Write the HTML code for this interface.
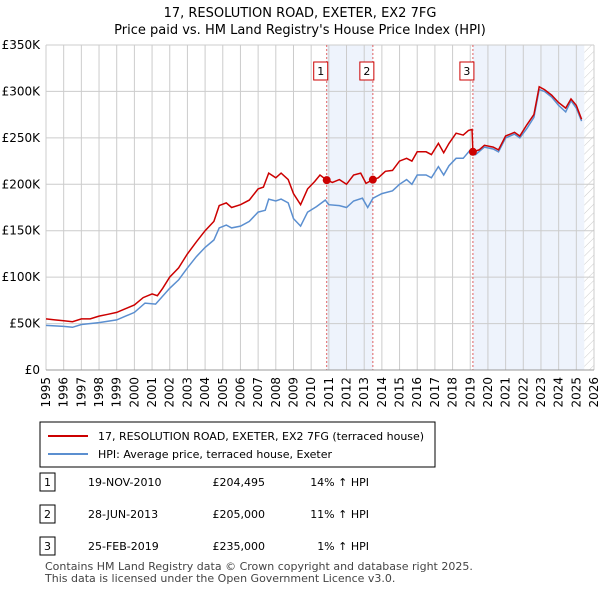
<!DOCTYPE html>
<html><head><meta charset="utf-8"><style>
body{margin:0;background:#fff;font-family:"Liberation Sans","DejaVu Sans",sans-serif;}
svg text{font-family:"DejaVu Sans","Liberation Sans",sans-serif;}
</style></head><body>
<svg id="c" width="600" height="590" xmlns="http://www.w3.org/2000/svg">
<defs><pattern id="hatch" width="6" height="6" patternUnits="userSpaceOnUse" patternTransform="rotate(45)"><line x1="0" y1="0" x2="0" y2="6" stroke="#ccc" stroke-width="1"/></pattern></defs>
<text x="300" y="17" text-anchor="middle" font-size="13">17, RESOLUTION ROAD, EXETER, EX2 7FG</text>
<text x="300" y="34" text-anchor="middle" font-size="13">Price paid vs. HM Land Registry's House Price Index (HPI)</text>
<g id="plot"></g>
<rect x="40" y="422" width="395" height="45" fill="#fff" stroke="#000"/>
<line x1="48" y1="436" x2="88" y2="436" stroke="#cc0000" stroke-width="2"/>
<text x="98" y="440" font-size="11">17, RESOLUTION ROAD, EXETER, EX2 7FG (terraced house)</text>
<line x1="48" y1="454" x2="88" y2="454" stroke="#5b8fd0" stroke-width="2"/>
<text x="98" y="458" font-size="11">HPI: Average price, terraced house, Exeter</text>
<g id="tbl" font-size="11"></g>
<text x="45" y="570" font-size="11" fill="#444">Contains HM Land Registry data © Crown copyright and database right 2025.</text>
<text x="45" y="582" font-size="11" fill="#444">This data is licensed under the Open Government Licence v3.0.</text>
</svg>
<script>
const redX=[1995,1995.5,1996,1996.5,1997,1997.5,1998,1998.5,1999,1999.5,2000,2000.5,2001,2001.3,2001.6,2002,2002.5,2003,2003.5,2004,2004.5,2004.8,2005.2,2005.5,2006,2006.5,2007,2007.3,2007.6,2008,2008.3,2008.7,2009,2009.4,2009.8,2010.2,2010.5,2010.88,2011.2,2011.6,2012,2012.4,2012.8,2013.1,2013.49,2013.8,2014.2,2014.6,2015,2015.4,2015.7,2016,2016.5,2016.8,2017.2,2017.5,2017.8,2018.2,2018.6,2018.9,2019.1,2019.15,2019.5,2019.8,2020.3,2020.6,2021,2021.5,2021.8,2022.2,2022.6,2022.9,2023.2,2023.6,2024,2024.4,2024.7,2025,2025.3];
const redY=[55,54,53,52,55,55,58,60,62,66,70,78,82,80,88,100,110,125,138,150,160,177,180,175,178,183,195,197,212,207,212,205,190,178,195,203,210,204.5,202,205,200,210,212,201,205,207,214,215,225,228,225,235,235,232,244,234,244,255,253,258,259,235,237,242,240,237,252,256,252,264,275,305,302,296,288,282,292,285,270];
const hpiX=[1995,1996,1996.5,1997,1998,1999,2000,2000.6,2001.2,2002,2002.5,2003,2003.5,2004,2004.5,2004.8,2005.2,2005.5,2006,2006.5,2007,2007.4,2007.6,2008,2008.3,2008.7,2009,2009.4,2009.8,2010.3,2010.8,2011,2011.6,2012,2012.4,2012.9,2013.2,2013.5,2014,2014.6,2015,2015.4,2015.7,2016,2016.5,2016.8,2017.2,2017.5,2017.8,2018.2,2018.6,2019,2019.3,2019.8,2020.3,2020.6,2021,2021.5,2021.8,2022.2,2022.6,2022.9,2023.2,2023.6,2024,2024.4,2024.7,2025,2025.3];
const hpiY=[48,47,46,49,51,54,62,72,71,88,97,110,122,132,140,153,156,153,155,160,170,172,184,182,184,180,163,155,170,176,183,178,177,175,182,185,175,185,190,193,200,205,200,210,210,207,219,210,220,228,228,237,232,240,238,235,250,254,250,260,272,302,300,294,285,278,290,282,268];
const saleX=[2010.88,2013.49,2019.15];
const saleY=[204.495,205,235];
const saleDates=["19-NOV-2010","28-JUN-2013","25-FEB-2019"];
const salePrices=["£204,495","£205,000","£235,000"];
const saleHpi=["14% ↑ HPI","11% ↑ HPI","1% ↑ HPI"];
const yTicks=[0,50,100,150,200,250,300,350];
const yLabels=["£0","£50K","£100K","£150K","£200K","£250K","£300K","£350K"];
const xTicks=[1995,1996,1997,1998,1999,2000,2001,2002,2003,2004,2005,2006,2007,2008,2009,2010,2011,2012,2013,2014,2015,2016,2017,2018,2019,2020,2021,2022,2023,2024,2025,2026];
const X0=46,X1=594,Y0=370,Y1=45;
const sx=v=>X0+(v-1995)/31*(X1-X0);
const sy=v=>Y0-v/350*(Y0-Y1);
const NS="http://www.w3.org/2000/svg";
const plot=document.getElementById('plot');
function mk(t,a,p){const e=document.createElementNS(NS,t);for(const k in a)e.setAttribute(k,a[k]);(p||plot).appendChild(e);return e;}
let e;
e=mk('rect',{x:sx(saleX[0]),y:Y1,width:sx(saleX[1])-sx(saleX[0]),height:Y0-Y1,fill:'#eef3fc'});


e=mk('rect',{x:sx(saleX[2]),y:Y1,width:sx(2025.45)-sx(saleX[2]),height:Y0-Y1,fill:'#eef3fc'});


e=mk('rect',{x:sx(2025.45),y:Y1,width:X1-sx(2025.45),height:Y0-Y1,fill:'url(#hatch)'});


xTicks.forEach(t=>{
 e=mk('line',{x1:sx(t),x2:sx(t),y1:Y1,y2:Y0,stroke:'#ccc'});
 
 
 const lx=sx(t)+4,ly=Y0+7;
 e=mk('text',{x:lx,y:ly,'text-anchor':'end','font-size':'12',transform:`rotate(-90 ${lx} ${ly})`});e.textContent=t;
 
 
});
yTicks.forEach((t,i)=>{
 e=mk('line',{x1:X0,x2:X1,y1:sy(t),y2:sy(t),stroke:'#ccc'});
 
 
 e=mk('text',{x:X0-6,y:sy(t)+4,'text-anchor':'end','font-size':'12'});e.textContent=yLabels[i];
 
 
});
saleX.forEach((s,i)=>{
 e=mk('line',{x1:sx(s),x2:sx(s),y1:Y1,y2:Y0,stroke:'#e06060','stroke-dasharray':'2,2'});
 
 
 e=mk('rect',{x:sx(s)-13,y:62,width:14,height:18,fill:'#fff',stroke:'#cc0000'});
 
 
 e=mk('text',{x:sx(s)-6,y:75,'text-anchor':'middle','font-size':'11'});e.textContent=i+1;
 
 
});
function path(xs,ys){return xs.map((x,i)=>(i?'L':'M')+sx(x).toFixed(1)+','+sy(ys[i]).toFixed(1)).join('');}
e=mk('path',{d:path(hpiX,hpiY),fill:'none',stroke:'#5b8fd0','stroke-width':1.5});


e=mk('path',{d:path(redX,redY),fill:'none',stroke:'#cc0000','stroke-width':1.5});


saleX.forEach((s,i)=>{
 e=mk('circle',{cx:sx(s),cy:sy(saleY[i]),r:4,fill:'#cc0000'});
 
 
});
mk('line',{x1:X0,x2:X1,y1:Y0,y2:Y0,stroke:'#999'});
const tbl=document.getElementById('tbl');
saleX.forEach((s,i)=>{
 const y=483+i*32;
 e=mk('rect',{x:40,y:y-10,width:15,height:18,fill:'#fff',stroke:'#000'},tbl);
 
 
 e=mk('text',{x:47.5,y:y+3,'text-anchor':'middle'},tbl);e.textContent=i+1;
 
 
 e=mk('text',{x:88,y:y+3},tbl);e.textContent=saleDates[i];
 
 
 e=mk('text',{x:265,y:y+3,'text-anchor':'end'},tbl);e.textContent=salePrices[i];
 
 
 e=mk('text',{x:369,y:y+3,'text-anchor':'end'},tbl);e.textContent=saleHpi[i];
 
 
});
</script>
</body></html>
